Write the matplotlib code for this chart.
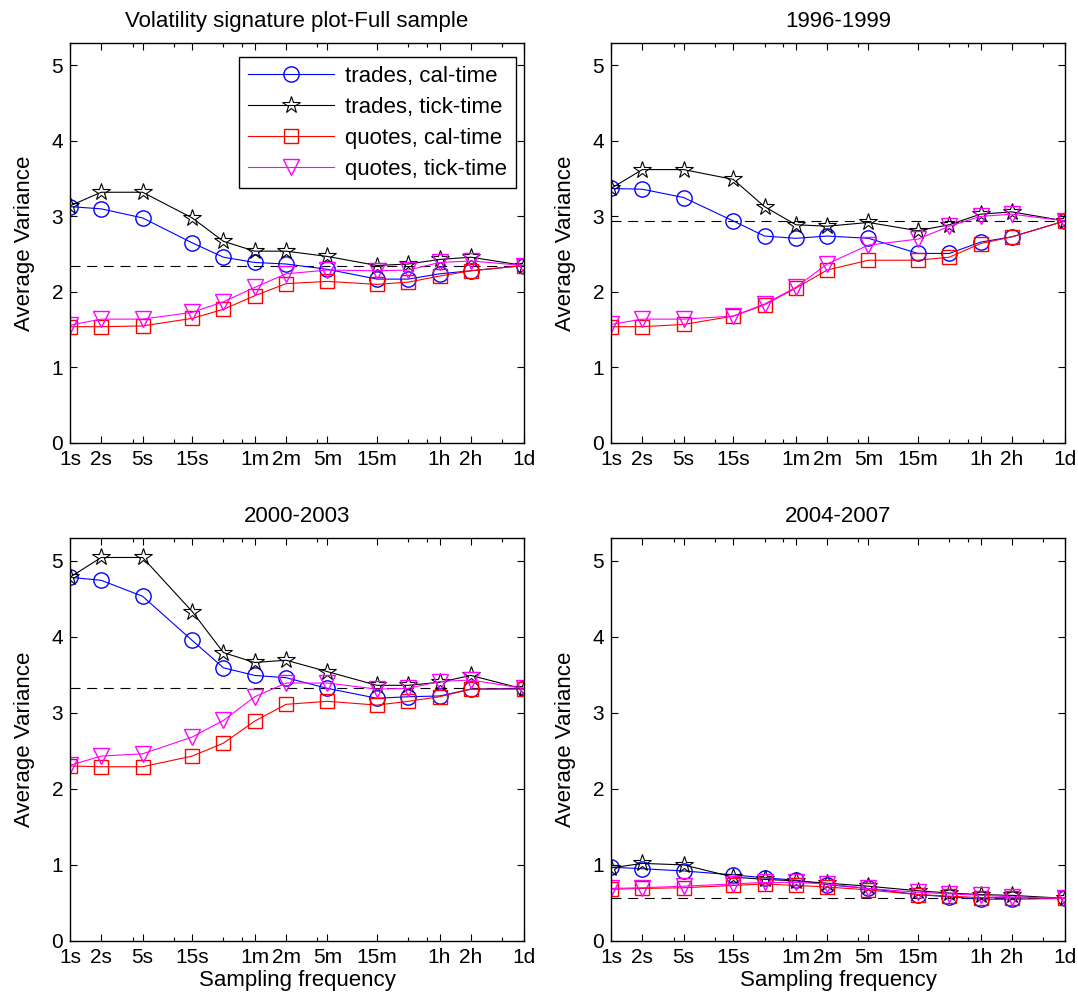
import matplotlib
matplotlib.use('Agg')
import matplotlib.pyplot as plt

plt.rcParams['font.family'] = ['Liberation Sans', 'DejaVu Sans']

# sampling intervals in seconds (1d = 6.5h trading day)
secs = [1, 2, 5, 15, 30, 60, 120, 300, 900, 1800, 3600, 7200, 23400]
tick_pos = [1, 2, 5, 15, 60, 120, 300, 900, 3600, 7200, 23400]
tick_lab = ['1s', '2s', '5s', '15s', '1m', '2m', '5m', '15m', '1h', '2h', '1d']
minor_pos = [4, 10, 30, 45, 240, 1800, 2700, 14400]

titles = ['Volatility signature plot-Full sample', '1996-1999', '2000-2003', '2004-2007']

trades_cal = [
    [3.13, 3.10, 2.98, 2.65, 2.46, 2.39, 2.37, 2.30, 2.17, 2.17, 2.24, 2.28, 2.35],
    [3.37, 3.36, 3.25, 2.94, 2.74, 2.71, 2.74, 2.71, 2.51, 2.51, 2.66, 2.73, 2.94],
    [4.78, 4.74, 4.53, 3.95, 3.59, 3.49, 3.46, 3.32, 3.19, 3.21, 3.22, 3.31, 3.32],
    [0.97, 0.95, 0.92, 0.87, 0.83, 0.80, 0.74, 0.69, 0.61, 0.58, 0.55, 0.55, 0.56],
]
trades_tick = [
    [3.14, 3.32, 3.32, 2.98, 2.67, 2.54, 2.54, 2.47, 2.35, 2.37, 2.43, 2.46, 2.35],
    [3.37, 3.62, 3.62, 3.49, 3.13, 2.89, 2.87, 2.92, 2.81, 2.89, 3.03, 3.06, 2.94],
    [4.78, 5.04, 5.04, 4.33, 3.79, 3.66, 3.69, 3.54, 3.36, 3.36, 3.40, 3.49, 3.31],
    [0.96, 1.02, 1.00, 0.84, 0.81, 0.79, 0.76, 0.72, 0.66, 0.63, 0.61, 0.60, 0.56],
]
quotes_cal = [
    [1.54, 1.54, 1.55, 1.65, 1.77, 1.95, 2.11, 2.14, 2.10, 2.13, 2.21, 2.28, 2.35],
    [1.54, 1.54, 1.57, 1.68, 1.83, 2.05, 2.29, 2.42, 2.42, 2.46, 2.64, 2.73, 2.94],
    [2.30, 2.29, 2.29, 2.43, 2.60, 2.89, 3.11, 3.15, 3.10, 3.15, 3.21, 3.31, 3.31],
    [0.68, 0.69, 0.70, 0.73, 0.75, 0.73, 0.71, 0.67, 0.61, 0.59, 0.57, 0.57, 0.56],
]
quotes_tick = [
    [1.56, 1.64, 1.64, 1.73, 1.87, 2.06, 2.24, 2.29, 2.28, 2.29, 2.39, 2.41, 2.35],
    [1.57, 1.64, 1.64, 1.68, 1.84, 2.06, 2.37, 2.62, 2.70, 2.87, 3.00, 3.03, 2.94],
    [2.31, 2.43, 2.46, 2.68, 2.90, 3.21, 3.39, 3.39, 3.31, 3.32, 3.41, 3.43, 3.32],
    [0.69, 0.70, 0.72, 0.75, 0.77, 0.77, 0.75, 0.69, 0.64, 0.62, 0.60, 0.58, 0.56],
]
daily_level = [2.35, 2.94, 3.32, 0.56]

fig = plt.figure(figsize=(10.78, 10), dpi=100)
boxes = [
    [0.0649, 0.557, 0.4212, 0.4003],
    [0.5668, 0.557, 0.4212, 0.4003],
    [0.0649, 0.059, 0.4212, 0.4033],
    [0.5668, 0.059, 0.4212, 0.4033],
]

fs = 16
tfs = 15
for i in range(4):
    ax = fig.add_axes(boxes[i])
    ax.axhline(daily_level[i], color='black', linestyle=(0, (9, 6)), linewidth=0.8)
    ax.plot(secs, trades_cal[i], color='blue', marker='o', markersize=11,
            markerfacecolor='none', linewidth=0.8, label='trades, cal-time')
    ax.plot(secs, trades_tick[i], color='black', marker='*', markersize=13,
            markerfacecolor='none', markeredgewidth=0.8, linewidth=0.8, label='trades, tick-time')
    ax.plot(secs, quotes_cal[i], color='red', marker='s', markersize=10,
            markerfacecolor='none', linewidth=0.8, label='quotes, cal-time')
    ax.plot(secs, quotes_tick[i], color='magenta', marker='v', markersize=12,
            markerfacecolor='none', linewidth=0.8, label='quotes, tick-time')

    ax.set_xscale('log')
    ax.set_xlim(1, 23400)
    ax.set_ylim(0, 5.3)
    ax.set_xticks(tick_pos)
    ax.set_xticklabels(tick_lab)
    ax.set_xticks(minor_pos, minor=True)
    ax.set_xticklabels([], minor=True)
    ax.set_yticks([0, 1, 2, 3, 4, 5])
    ax.tick_params(which='both', direction='in', top=True, right=True, labelsize=tfs,
                   width=0.8)
    ax.tick_params(which='major', length=5)
    ax.tick_params(which='minor', length=3)
    ax.tick_params(axis='x', pad=5)
    ax.tick_params(axis='y', pad=5)
    for sp in ax.spines.values():
        sp.set_linewidth(1.0)

    ax.set_title(titles[i], fontsize=fs, pad=11)
    ax.set_ylabel('Average Variance', fontsize=fs, labelpad=12)
    if i >= 2:
        ax.set_xlabel('Sampling frequency', fontsize=fs, labelpad=2)
    if i == 0:
        leg = ax.legend(loc='upper right', bbox_to_anchor=(0.983, 0.965), fontsize=fs,
                        handlelength=3.9, fancybox=False, framealpha=1,
                        edgecolor='black', borderpad=0.4, labelspacing=0.45,
                        handletextpad=0.5, borderaxespad=0)
        leg.get_frame().set_linewidth(1.0)

fig.savefig('out.png', dpi=100)
